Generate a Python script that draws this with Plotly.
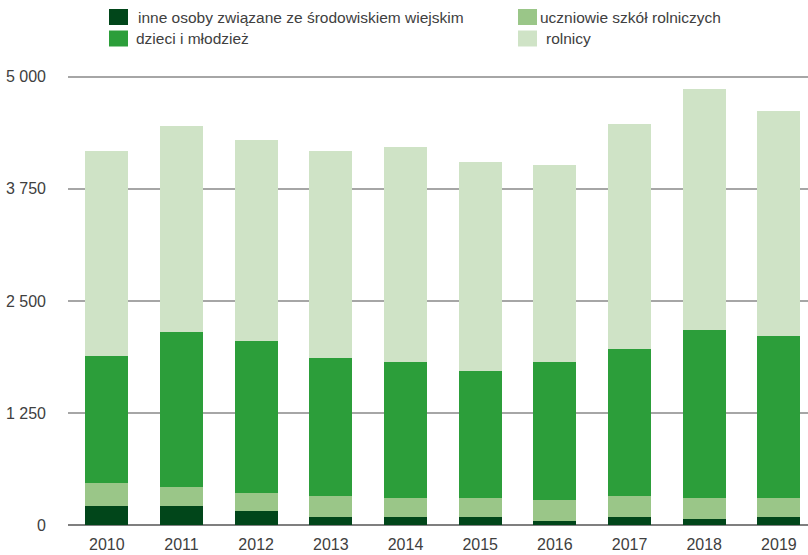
import plotly.graph_objects as go

years = ["2010", "2011", "2012", "2013", "2014", "2015", "2016", "2017", "2018", "2019"]
series_names = [
    "inne osoby związane ze środowiskiem wiejskim",
    "uczniowie szkół rolniczych",
    "dzieci i młodzież",
    "rolnicy",
]
inne = [212, 212, 156, 89, 89, 89, 45, 89, 67, 89]
uczniowie = [257, 212, 201, 235, 212, 212, 234, 235, 234, 212]
dzieci = [1417, 1730, 1697, 1540, 1518, 1418, 1540, 1640, 1875, 1808]
rolnicy = [2288, 2299, 2243, 2310, 2400, 2332, 2199, 2511, 2690, 2512]
y_ticks = [0, 1250, 2500, 3750, 5000]
y_tick_labels = ["0", "1 250", "2 500", "3 750", "5 000"]

colors = ["#01461a", "#9ac688", "#2c9e3a", "#cfe3c6"]
values = [inne, uczniowie, dzieci, rolnicy]

FONT = "Liberation Sans, Arial, sans-serif"
TXT = "#404040"

W, H = 808, 555
ML, MR, MT, MB = 68, 0, 75, 30

fig = go.Figure()
for name, vals, col in zip(series_names, values, colors):
    fig.add_trace(go.Bar(x=list(range(len(years))), y=vals, name=name,
                         marker=dict(color=col, line=dict(width=0)),
                         showlegend=False))

fig.update_layout(
    width=W, height=H, barmode="stack", bargap=0.424,
    margin=dict(l=ML, r=MR, t=MT, b=MB, pad=0),
    paper_bgcolor="white", plot_bgcolor="white",
    font=dict(family=FONT, size=16, color=TXT),
)
fig.update_xaxes(
    tickmode="array", tickvals=list(range(len(years))), ticktext=years,
    range=[-0.52, 9.39], showgrid=False, zeroline=False, showline=False,
    ticks="", ticklabelstandoff=8,
    tickfont=dict(family=FONT, size=16, color=TXT),
)
fig.update_yaxes(
    tickmode="array", tickvals=y_ticks, ticktext=y_tick_labels,
    range=[0, 5020], showgrid=True, gridcolor="#a6a6a6", gridwidth=1.5,
    zeroline=True, zerolinecolor="#7f7f7f", zerolinewidth=2,
    showline=False, ticks="", ticklabelstandoff=21,
    tickfont=dict(family=FONT, size=16, color=TXT),
)

# manual legend (pixel positions converted to paper coords)
pw = W - ML - MR
ph = H - MT - MB
def px(x):
    return (x - ML) / pw
def py(y):
    return (H - MB - y) / ph

legend_items = [
    (0, 109, 9, 138),
    (2, 109, 30.5, 136),
    (1, 518, 9, 540),
    (3, 518, 30.5, 546),
]
for idx, sx, sy, tx in legend_items:
    fig.add_shape(type="rect", xref="paper", yref="paper",
                  x0=px(sx), x1=px(sx + 19), y0=py(sy + 16), y1=py(sy),
                  fillcolor=colors[idx], line=dict(width=0))
    fig.add_annotation(xref="paper", yref="paper", x=px(tx), y=py(sy + 8),
                       text=series_names[idx], showarrow=False,
                       xanchor="left", yanchor="middle", align="left",
                       borderpad=0, borderwidth=0, width=260 if idx % 2 else 340,
                       font=dict(family=FONT, size=15.5, color=TXT))

fig.write_html("out.html", config={"displayModeBar": False},
               post_script="document.body.style.margin='0px';document.body.style.overflow='hidden';")
